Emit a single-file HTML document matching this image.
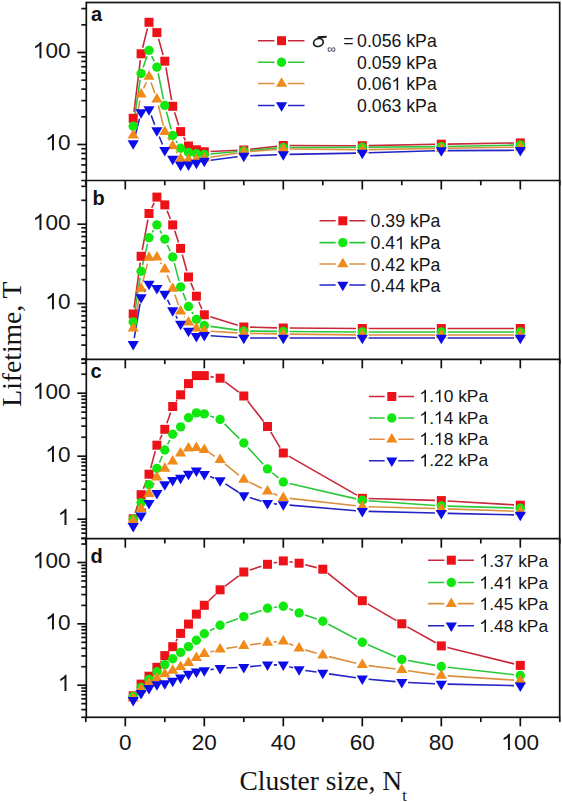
<!DOCTYPE html>
<html><head><meta charset="utf-8"><style>
html,body{margin:0;padding:0;background:#fff;}
body{width:562px;height:802px;position:relative;overflow:hidden;font-family:"Liberation Sans",sans-serif;}
</style></head><body>
<svg width="562" height="802" viewBox="0 0 562 802" style="position:absolute;left:0;top:0">
<rect width="562" height="802" fill="#fff"/>
<clipPath id="cpa"><rect x="86.3" y="2.5" width="473.40000000000003" height="178.0"/></clipPath>
<g clip-path="url(#cpa)">
<path d="M133.97 112.05L140.33 60.05M142.63 47.69L147.47 28.41M152.83 27.30L153.07 27.60M158.58 38.67L163.12 55.13M165.89 67.41L171.61 100.09M174.58 112.31L178.72 125.59M183.63 137.12L185.47 140.48M210.59 151.43L237.51 150.27M250.06 149.29L277.04 146.21M289.60 145.52L356.00 145.68M368.60 145.58L435.00 144.32M447.60 144.10L514.00 143.00" fill="none" stroke="#c8283a" stroke-width="1.6"/>
<path d="M134.13 120.07L140.17 79.73M143.14 67.54L146.96 56.36M151.69 56.09L154.21 61.41M158.17 73.27L163.53 99.33M166.40 111.59L171.10 129.41M176.03 140.85L177.27 142.85M210.58 153.94L237.52 151.56M250.08 150.44L277.02 148.06M289.60 147.48L356.00 147.32M368.60 147.24L435.00 146.66M447.60 146.47L514.00 145.13" fill="none" stroke="#2cc83c" stroke-width="1.6"/>
<path d="M134.39 129.11L139.91 100.29M143.68 88.35L146.42 82.25M151.06 82.45L154.84 93.35M158.39 105.42L163.31 125.68M167.86 137.31L169.64 140.49M176.01 151.36L177.29 153.44M210.52 157.31L237.58 152.99M250.08 151.52L277.02 149.48M289.60 149.06L356.00 149.64M368.60 149.60L435.00 148.50M447.60 148.30L514.00 147.20" fill="none" stroke="#dc9040" stroke-width="1.6"/>
<path d="M134.76 137.40L139.54 118.60M151.21 115.40L154.69 124.70M159.24 136.45L162.46 144.45M210.55 160.21L237.55 156.79M250.10 155.76L277.00 154.74M289.60 154.38L356.00 153.12M368.60 152.81L435.00 150.79M447.60 150.58L514.00 150.32" fill="none" stroke="#2424c4" stroke-width="1.6"/>
<rect x="128.70" y="113.80" width="9.00" height="9.00" fill="#ec1218"/>
<rect x="136.60" y="49.30" width="9.00" height="9.00" fill="#ec1218"/>
<rect x="144.50" y="17.80" width="9.00" height="9.00" fill="#ec1218"/>
<rect x="152.40" y="28.10" width="9.00" height="9.00" fill="#ec1218"/>
<rect x="160.30" y="56.70" width="9.00" height="9.00" fill="#ec1218"/>
<rect x="168.20" y="101.80" width="9.00" height="9.00" fill="#ec1218"/>
<rect x="176.10" y="127.10" width="9.00" height="9.00" fill="#ec1218"/>
<rect x="184.00" y="141.50" width="9.00" height="9.00" fill="#ec1218"/>
<rect x="191.90" y="145.30" width="9.00" height="9.00" fill="#ec1218"/>
<rect x="199.80" y="147.20" width="9.00" height="9.00" fill="#ec1218"/>
<rect x="239.30" y="145.50" width="9.00" height="9.00" fill="#ec1218"/>
<rect x="278.80" y="141.00" width="9.00" height="9.00" fill="#ec1218"/>
<rect x="357.80" y="141.20" width="9.00" height="9.00" fill="#ec1218"/>
<rect x="436.80" y="139.70" width="9.00" height="9.00" fill="#ec1218"/>
<rect x="515.80" y="138.40" width="9.00" height="9.00" fill="#ec1218"/>
<circle cx="133.20" cy="126.30" r="4.7" fill="#10e810"/>
<circle cx="141.10" cy="73.50" r="4.7" fill="#10e810"/>
<circle cx="149.00" cy="50.40" r="4.7" fill="#10e810"/>
<circle cx="156.90" cy="67.10" r="4.7" fill="#10e810"/>
<circle cx="164.80" cy="105.50" r="4.7" fill="#10e810"/>
<circle cx="172.70" cy="135.50" r="4.7" fill="#10e810"/>
<circle cx="180.60" cy="148.20" r="4.7" fill="#10e810"/>
<circle cx="188.50" cy="152.40" r="4.7" fill="#10e810"/>
<circle cx="196.40" cy="153.80" r="4.7" fill="#10e810"/>
<circle cx="204.30" cy="154.50" r="4.7" fill="#10e810"/>
<circle cx="243.80" cy="151.00" r="4.7" fill="#10e810"/>
<circle cx="283.30" cy="147.50" r="4.7" fill="#10e810"/>
<circle cx="362.30" cy="147.30" r="4.7" fill="#10e810"/>
<circle cx="441.30" cy="146.60" r="4.7" fill="#10e810"/>
<circle cx="520.30" cy="145.00" r="4.7" fill="#10e810"/>
<path d="M133.20 129.10L138.80 138.60L127.60 138.60Z" fill="#f08a1a"/>
<path d="M141.10 87.90L146.70 97.40L135.50 97.40Z" fill="#f08a1a"/>
<path d="M149.00 70.30L154.60 79.80L143.40 79.80Z" fill="#f08a1a"/>
<path d="M156.90 93.10L162.50 102.60L151.30 102.60Z" fill="#f08a1a"/>
<path d="M164.80 125.60L170.40 135.10L159.20 135.10Z" fill="#f08a1a"/>
<path d="M172.70 139.80L178.30 149.30L167.10 149.30Z" fill="#f08a1a"/>
<path d="M180.60 152.60L186.20 162.10L175.00 162.10Z" fill="#f08a1a"/>
<path d="M188.50 153.60L194.10 163.10L182.90 163.10Z" fill="#f08a1a"/>
<path d="M196.40 153.10L202.00 162.60L190.80 162.60Z" fill="#f08a1a"/>
<path d="M204.30 152.10L209.90 161.60L198.70 161.60Z" fill="#f08a1a"/>
<path d="M243.80 145.80L249.40 155.30L238.20 155.30Z" fill="#f08a1a"/>
<path d="M283.30 142.80L288.90 152.30L277.70 152.30Z" fill="#f08a1a"/>
<path d="M362.30 143.50L367.90 153.00L356.70 153.00Z" fill="#f08a1a"/>
<path d="M441.30 142.20L446.90 151.70L435.70 151.70Z" fill="#f08a1a"/>
<path d="M520.30 140.90L525.90 150.40L514.70 150.40Z" fill="#f08a1a"/>
<path d="M127.60 140.20L138.80 140.20L133.20 149.70Z" fill="#0c0ce8"/>
<path d="M135.50 109.20L146.70 109.20L141.10 118.70Z" fill="#0c0ce8"/>
<path d="M143.40 106.20L154.60 106.20L149.00 115.70Z" fill="#0c0ce8"/>
<path d="M151.30 127.30L162.50 127.30L156.90 136.80Z" fill="#0c0ce8"/>
<path d="M159.20 147.00L170.40 147.00L164.80 156.50Z" fill="#0c0ce8"/>
<path d="M167.10 155.70L178.30 155.70L172.70 165.20Z" fill="#0c0ce8"/>
<path d="M175.00 161.70L186.20 161.70L180.60 171.20Z" fill="#0c0ce8"/>
<path d="M182.90 161.50L194.10 161.50L188.50 171.00Z" fill="#0c0ce8"/>
<path d="M190.80 159.70L202.00 159.70L196.40 169.20Z" fill="#0c0ce8"/>
<path d="M198.70 157.70L209.90 157.70L204.30 167.20Z" fill="#0c0ce8"/>
<path d="M238.20 152.70L249.40 152.70L243.80 162.20Z" fill="#0c0ce8"/>
<path d="M277.70 151.20L288.90 151.20L283.30 160.70Z" fill="#0c0ce8"/>
<path d="M356.70 149.70L367.90 149.70L362.30 159.20Z" fill="#0c0ce8"/>
<path d="M435.70 147.30L446.90 147.30L441.30 156.80Z" fill="#0c0ce8"/>
<path d="M514.70 147.00L525.90 147.00L520.30 156.50Z" fill="#0c0ce8"/>
</g>
<clipPath id="cpb"><rect x="86.3" y="180.5" width="473.40000000000003" height="178.8"/></clipPath>
<g clip-path="url(#cpb)">
<path d="M134.05 307.76L140.25 262.54M142.24 250.10L147.86 219.70M151.73 207.82L154.17 202.78M167.11 210.76L170.39 219.04M174.71 230.87L178.59 242.43M182.28 254.47L186.82 270.93M190.90 282.83L194.00 290.37M198.86 302.00L201.84 309.00M210.32 316.66L237.78 325.14M250.10 327.16L277.00 327.84M289.60 328.04L356.00 328.46M368.60 328.50L435.00 328.50M447.60 328.50L514.00 328.50" fill="none" stroke="#c8283a" stroke-width="1.6"/>
<path d="M134.17 315.78L140.13 277.52M142.54 265.17L147.56 243.83M152.31 232.34L153.59 230.26M159.96 230.41L161.74 233.59M167.34 244.86L170.16 251.24M174.30 263.09L179.00 280.91M182.97 292.84L186.13 300.66M191.79 311.87L193.11 314.03M210.54 326.37L237.56 330.13M250.10 331.08L277.00 331.42M289.60 331.54L356.00 331.96M368.60 332.00L435.00 332.00M447.60 332.00L514.00 332.00" fill="none" stroke="#2cc83c" stroke-width="1.6"/>
<path d="M134.43 322.02L139.87 294.68M142.66 282.40L147.44 263.60M160.34 262.48L161.36 264.02M167.20 275.13L170.30 282.67M174.76 294.45L178.54 305.35M184.27 316.42L184.83 317.18M210.59 331.20L237.51 332.90M250.10 333.41L277.00 333.89M289.60 334.08L356.00 334.92M368.60 335.00L435.00 335.00M447.60 335.00L514.00 335.00" fill="none" stroke="#dc9040" stroke-width="1.6"/>
<path d="M134.25 338.09L140.05 303.71M144.28 292.06L145.82 289.44M167.53 299.78L169.97 304.82M175.88 315.94L177.42 318.56M210.59 335.73L237.51 337.57M250.10 338.00L277.00 338.00M289.60 338.00L356.00 338.00M368.60 338.00L435.00 338.00M447.60 338.00L514.00 338.00" fill="none" stroke="#2424c4" stroke-width="1.6"/>
<rect x="128.70" y="309.50" width="9.00" height="9.00" fill="#ec1218"/>
<rect x="136.60" y="251.80" width="9.00" height="9.00" fill="#ec1218"/>
<rect x="144.50" y="209.00" width="9.00" height="9.00" fill="#ec1218"/>
<rect x="152.40" y="192.60" width="9.00" height="9.00" fill="#ec1218"/>
<rect x="160.30" y="200.40" width="9.00" height="9.00" fill="#ec1218"/>
<rect x="168.20" y="220.40" width="9.00" height="9.00" fill="#ec1218"/>
<rect x="176.10" y="243.90" width="9.00" height="9.00" fill="#ec1218"/>
<rect x="184.00" y="272.50" width="9.00" height="9.00" fill="#ec1218"/>
<rect x="191.90" y="291.70" width="9.00" height="9.00" fill="#ec1218"/>
<rect x="199.80" y="310.30" width="9.00" height="9.00" fill="#ec1218"/>
<rect x="239.30" y="322.50" width="9.00" height="9.00" fill="#ec1218"/>
<rect x="278.80" y="323.50" width="9.00" height="9.00" fill="#ec1218"/>
<rect x="357.80" y="324.00" width="9.00" height="9.00" fill="#ec1218"/>
<rect x="436.80" y="324.00" width="9.00" height="9.00" fill="#ec1218"/>
<rect x="515.80" y="324.00" width="9.00" height="9.00" fill="#ec1218"/>
<circle cx="133.20" cy="322.00" r="4.7" fill="#10e810"/>
<circle cx="141.10" cy="271.30" r="4.7" fill="#10e810"/>
<circle cx="149.00" cy="237.70" r="4.7" fill="#10e810"/>
<circle cx="156.90" cy="224.90" r="4.7" fill="#10e810"/>
<circle cx="164.80" cy="239.10" r="4.7" fill="#10e810"/>
<circle cx="172.70" cy="257.00" r="4.7" fill="#10e810"/>
<circle cx="180.60" cy="287.00" r="4.7" fill="#10e810"/>
<circle cx="188.50" cy="306.50" r="4.7" fill="#10e810"/>
<circle cx="196.40" cy="319.40" r="4.7" fill="#10e810"/>
<circle cx="204.30" cy="325.50" r="4.7" fill="#10e810"/>
<circle cx="243.80" cy="331.00" r="4.7" fill="#10e810"/>
<circle cx="283.30" cy="331.50" r="4.7" fill="#10e810"/>
<circle cx="362.30" cy="332.00" r="4.7" fill="#10e810"/>
<circle cx="441.30" cy="332.00" r="4.7" fill="#10e810"/>
<circle cx="520.30" cy="332.00" r="4.7" fill="#10e810"/>
<path d="M133.20 322.00L138.80 331.50L127.60 331.50Z" fill="#f08a1a"/>
<path d="M141.10 282.30L146.70 291.80L135.50 291.80Z" fill="#f08a1a"/>
<path d="M149.00 251.30L154.60 260.80L143.40 260.80Z" fill="#f08a1a"/>
<path d="M156.90 251.00L162.50 260.50L151.30 260.50Z" fill="#f08a1a"/>
<path d="M164.80 263.10L170.40 272.60L159.20 272.60Z" fill="#f08a1a"/>
<path d="M172.70 282.30L178.30 291.80L167.10 291.80Z" fill="#f08a1a"/>
<path d="M180.60 305.10L186.20 314.60L175.00 314.60Z" fill="#f08a1a"/>
<path d="M188.50 316.10L194.10 325.60L182.90 325.60Z" fill="#f08a1a"/>
<path d="M196.40 322.00L202.00 331.50L190.80 331.50Z" fill="#f08a1a"/>
<path d="M204.30 324.60L209.90 334.10L198.70 334.10Z" fill="#f08a1a"/>
<path d="M243.80 327.10L249.40 336.60L238.20 336.60Z" fill="#f08a1a"/>
<path d="M283.30 327.80L288.90 337.30L277.70 337.30Z" fill="#f08a1a"/>
<path d="M362.30 328.80L367.90 338.30L356.70 338.30Z" fill="#f08a1a"/>
<path d="M441.30 328.80L446.90 338.30L435.70 338.30Z" fill="#f08a1a"/>
<path d="M520.30 328.80L525.90 338.30L514.70 338.30Z" fill="#f08a1a"/>
<path d="M127.60 341.00L138.80 341.00L133.20 350.50Z" fill="#0c0ce8"/>
<path d="M135.50 294.20L146.70 294.20L141.10 303.70Z" fill="#0c0ce8"/>
<path d="M143.40 280.70L154.60 280.70L149.00 290.20Z" fill="#0c0ce8"/>
<path d="M151.30 285.10L162.50 285.10L156.90 294.60Z" fill="#0c0ce8"/>
<path d="M159.20 290.80L170.40 290.80L164.80 300.30Z" fill="#0c0ce8"/>
<path d="M167.10 307.20L178.30 307.20L172.70 316.70Z" fill="#0c0ce8"/>
<path d="M175.00 320.70L186.20 320.70L180.60 330.20Z" fill="#0c0ce8"/>
<path d="M182.90 327.70L194.10 327.70L188.50 337.20Z" fill="#0c0ce8"/>
<path d="M190.80 333.00L202.00 333.00L196.40 342.50Z" fill="#0c0ce8"/>
<path d="M198.70 332.00L209.90 332.00L204.30 341.50Z" fill="#0c0ce8"/>
<path d="M238.20 334.70L249.40 334.70L243.80 344.20Z" fill="#0c0ce8"/>
<path d="M277.70 334.70L288.90 334.70L283.30 344.20Z" fill="#0c0ce8"/>
<path d="M356.70 334.70L367.90 334.70L362.30 344.20Z" fill="#0c0ce8"/>
<path d="M435.70 334.70L446.90 334.70L441.30 344.20Z" fill="#0c0ce8"/>
<path d="M514.70 334.70L525.90 334.70L520.30 344.20Z" fill="#0c0ce8"/>
</g>
<clipPath id="cpc"><rect x="86.3" y="359.3" width="473.40000000000003" height="179.40000000000003"/></clipPath>
<g clip-path="url(#cpc)">
<path d="M135.16 512.81L139.14 500.69M143.37 488.82L146.73 480.08M150.66 468.12L155.24 451.28M159.70 439.56L162.00 434.94M166.86 423.35L170.64 412.45M176.23 401.28L177.07 400.02M184.23 389.65L184.87 388.75M210.52 376.62L213.88 377.18M225.14 381.98L238.76 392.22M247.67 400.97L263.63 421.53M270.73 431.91L280.07 447.59M288.77 456.13L356.83 495.17M368.60 498.48L435.00 500.42M447.59 500.97L514.01 504.83" fill="none" stroke="#c8283a" stroke-width="1.6"/>
<path d="M135.92 513.42L138.38 508.28M143.66 496.84L146.44 490.56M151.73 479.12L154.17 474.08M159.39 462.61L162.31 455.79M167.63 444.37L169.87 439.93M210.24 416.00L214.16 417.40M224.57 423.94L239.33 438.56M248.05 447.65L263.25 464.25M272.35 472.92L278.45 477.98M289.44 483.42L356.16 498.88M368.58 500.75L435.02 505.45M447.60 506.08L514.00 508.02" fill="none" stroke="#2cc83c" stroke-width="1.6"/>
<path d="M136.66 515.54L137.64 514.06M144.04 503.23L146.06 499.37M151.71 488.11L154.19 482.89M209.59 453.02L214.81 456.38M224.94 463.83L238.96 475.47M249.46 482.27L261.84 488.33M273.31 493.53L277.49 495.27M289.56 498.40L356.04 505.80M368.60 506.68L435.00 508.52M447.60 508.92L514.00 511.18" fill="none" stroke="#dc9040" stroke-width="1.6"/>
<path d="M137.01 521.28L137.29 520.92M144.45 510.56L145.65 508.64M152.91 498.36L152.99 498.24M210.16 476.60L214.24 478.20M225.41 483.89L238.49 492.21M249.79 497.55L261.51 501.35M273.78 503.82L277.02 504.08M289.58 505.12L356.02 510.68M368.60 511.36L435.00 513.04M447.60 513.34L514.00 514.86" fill="none" stroke="#2424c4" stroke-width="1.6"/>
<rect x="128.70" y="514.30" width="9.00" height="9.00" fill="#ec1218"/>
<rect x="136.60" y="490.20" width="9.00" height="9.00" fill="#ec1218"/>
<rect x="144.50" y="469.70" width="9.00" height="9.00" fill="#ec1218"/>
<rect x="152.40" y="440.70" width="9.00" height="9.00" fill="#ec1218"/>
<rect x="160.30" y="424.80" width="9.00" height="9.00" fill="#ec1218"/>
<rect x="168.20" y="402.00" width="9.00" height="9.00" fill="#ec1218"/>
<rect x="176.10" y="390.30" width="9.00" height="9.00" fill="#ec1218"/>
<rect x="184.00" y="379.10" width="9.00" height="9.00" fill="#ec1218"/>
<rect x="191.90" y="371.10" width="9.00" height="9.00" fill="#ec1218"/>
<rect x="199.80" y="371.10" width="9.00" height="9.00" fill="#ec1218"/>
<rect x="215.60" y="373.70" width="9.00" height="9.00" fill="#ec1218"/>
<rect x="239.30" y="391.50" width="9.00" height="9.00" fill="#ec1218"/>
<rect x="263.00" y="422.00" width="9.00" height="9.00" fill="#ec1218"/>
<rect x="278.80" y="448.50" width="9.00" height="9.00" fill="#ec1218"/>
<rect x="357.80" y="493.80" width="9.00" height="9.00" fill="#ec1218"/>
<rect x="436.80" y="496.10" width="9.00" height="9.00" fill="#ec1218"/>
<rect x="515.80" y="500.70" width="9.00" height="9.00" fill="#ec1218"/>
<circle cx="133.20" cy="519.10" r="4.7" fill="#10e810"/>
<circle cx="141.10" cy="502.60" r="4.7" fill="#10e810"/>
<circle cx="149.00" cy="484.80" r="4.7" fill="#10e810"/>
<circle cx="156.90" cy="468.40" r="4.7" fill="#10e810"/>
<circle cx="164.80" cy="450.00" r="4.7" fill="#10e810"/>
<circle cx="172.70" cy="434.30" r="4.7" fill="#10e810"/>
<circle cx="180.60" cy="426.90" r="4.7" fill="#10e810"/>
<circle cx="188.50" cy="417.70" r="4.7" fill="#10e810"/>
<circle cx="196.40" cy="412.90" r="4.7" fill="#10e810"/>
<circle cx="204.30" cy="413.90" r="4.7" fill="#10e810"/>
<circle cx="220.10" cy="419.50" r="4.7" fill="#10e810"/>
<circle cx="243.80" cy="443.00" r="4.7" fill="#10e810"/>
<circle cx="267.50" cy="468.90" r="4.7" fill="#10e810"/>
<circle cx="283.30" cy="482.00" r="4.7" fill="#10e810"/>
<circle cx="362.30" cy="500.30" r="4.7" fill="#10e810"/>
<circle cx="441.30" cy="505.90" r="4.7" fill="#10e810"/>
<circle cx="520.30" cy="508.20" r="4.7" fill="#10e810"/>
<path d="M133.20 514.60L138.80 524.10L127.60 524.10Z" fill="#f08a1a"/>
<path d="M141.10 502.60L146.70 512.10L135.50 512.10Z" fill="#f08a1a"/>
<path d="M149.00 487.60L154.60 497.10L143.40 497.10Z" fill="#f08a1a"/>
<path d="M156.90 471.00L162.50 480.50L151.30 480.50Z" fill="#f08a1a"/>
<path d="M164.80 462.20L170.40 471.70L159.20 471.70Z" fill="#f08a1a"/>
<path d="M172.70 455.00L178.30 464.50L167.10 464.50Z" fill="#f08a1a"/>
<path d="M180.60 447.00L186.20 456.50L175.00 456.50Z" fill="#f08a1a"/>
<path d="M188.50 442.00L194.10 451.50L182.90 451.50Z" fill="#f08a1a"/>
<path d="M196.40 441.40L202.00 450.90L190.80 450.90Z" fill="#f08a1a"/>
<path d="M204.30 443.40L209.90 452.90L198.70 452.90Z" fill="#f08a1a"/>
<path d="M220.10 453.60L225.70 463.10L214.50 463.10Z" fill="#f08a1a"/>
<path d="M243.80 473.30L249.40 482.80L238.20 482.80Z" fill="#f08a1a"/>
<path d="M267.50 484.90L273.10 494.40L261.90 494.40Z" fill="#f08a1a"/>
<path d="M283.30 491.50L288.90 501.00L277.70 501.00Z" fill="#f08a1a"/>
<path d="M362.30 500.30L367.90 509.80L356.70 509.80Z" fill="#f08a1a"/>
<path d="M441.30 502.50L446.90 512.00L435.70 512.00Z" fill="#f08a1a"/>
<path d="M520.30 505.20L525.90 514.70L514.70 514.70Z" fill="#f08a1a"/>
<path d="M127.60 523.00L138.80 523.00L133.20 532.50Z" fill="#0c0ce8"/>
<path d="M135.50 512.60L146.70 512.60L141.10 522.10Z" fill="#0c0ce8"/>
<path d="M143.40 500.00L154.60 500.00L149.00 509.50Z" fill="#0c0ce8"/>
<path d="M151.30 490.00L162.50 490.00L156.90 499.50Z" fill="#0c0ce8"/>
<path d="M159.20 481.20L170.40 481.20L164.80 490.70Z" fill="#0c0ce8"/>
<path d="M167.10 477.10L178.30 477.10L172.70 486.60Z" fill="#0c0ce8"/>
<path d="M175.00 474.70L186.20 474.70L180.60 484.20Z" fill="#0c0ce8"/>
<path d="M182.90 470.70L194.10 470.70L188.50 480.20Z" fill="#0c0ce8"/>
<path d="M190.80 467.50L202.00 467.50L196.40 477.00Z" fill="#0c0ce8"/>
<path d="M198.70 471.00L209.90 471.00L204.30 480.50Z" fill="#0c0ce8"/>
<path d="M214.50 477.20L225.70 477.20L220.10 486.70Z" fill="#0c0ce8"/>
<path d="M238.20 492.30L249.40 492.30L243.80 501.80Z" fill="#0c0ce8"/>
<path d="M261.90 500.00L273.10 500.00L267.50 509.50Z" fill="#0c0ce8"/>
<path d="M277.70 501.30L288.90 501.30L283.30 510.80Z" fill="#0c0ce8"/>
<path d="M356.70 507.90L367.90 507.90L362.30 517.40Z" fill="#0c0ce8"/>
<path d="M435.70 509.90L446.90 509.90L441.30 519.40Z" fill="#0c0ce8"/>
<path d="M514.70 511.70L525.90 511.70L520.30 521.20Z" fill="#0c0ce8"/>
</g>
<clipPath id="cpd"><rect x="86.3" y="538.7" width="473.40000000000003" height="178.5999999999999"/></clipPath>
<g clip-path="url(#cpd)">
<path d="M136.73 690.58L137.57 689.32M160.43 662.08L161.27 660.82M175.92 641.28L177.38 638.82M192.41 619.16L192.49 619.04M208.80 600.89L215.60 594.21M225.14 586.02L238.76 575.78M249.79 570.05L261.51 566.25M273.66 562.97L277.14 562.23M289.53 561.81L292.87 562.29M305.21 564.75L316.69 567.65M327.73 573.13L357.37 596.77M367.74 603.88L396.36 620.62M407.30 626.88L435.80 642.82M447.42 647.41L514.18 663.89" fill="none" stroke="#c8283a" stroke-width="1.6"/>
<path d="M209.85 630.72L214.55 628.18M226.02 623.05L237.88 618.75M249.75 614.52L261.55 610.38M273.75 607.47L277.05 607.03M289.10 608.66L293.30 610.44M305.05 614.98L316.85 619.12M328.36 624.17L356.74 639.33M368.08 644.80L396.02 656.90M408.00 660.51L435.10 665.39M447.56 667.21L514.04 674.69" fill="none" stroke="#2cc83c" stroke-width="1.6"/>
<path d="M210.38 651.95L214.02 650.95M226.33 648.38L237.57 646.72M250.04 644.91L261.26 643.29M273.78 641.92L277.02 641.68M289.07 643.72L293.33 645.58M305.14 649.88L316.76 653.32M328.92 656.60L356.18 663.30M368.55 665.59L395.55 669.01M408.04 670.70L435.06 674.60M447.59 675.90L514.01 680.10" fill="none" stroke="#dc9040" stroke-width="1.6"/>
<path d="M210.54 669.63L213.86 669.17M226.39 668.01L237.51 667.49M250.07 666.59L261.23 665.51M273.80 664.90L277.00 664.90M289.35 666.66L293.05 667.74M305.33 670.42L316.57 672.08M329.04 673.90L356.06 677.80M368.58 679.26L395.52 681.64M408.09 682.49L435.01 683.71M447.60 684.14L514.00 685.66" fill="none" stroke="#2424c4" stroke-width="1.6"/>
<rect x="128.70" y="691.30" width="9.00" height="9.00" fill="#ec1218"/>
<rect x="136.60" y="679.60" width="9.00" height="9.00" fill="#ec1218"/>
<rect x="144.50" y="671.70" width="9.00" height="9.00" fill="#ec1218"/>
<rect x="152.40" y="662.80" width="9.00" height="9.00" fill="#ec1218"/>
<rect x="160.30" y="651.10" width="9.00" height="9.00" fill="#ec1218"/>
<rect x="168.20" y="642.20" width="9.00" height="9.00" fill="#ec1218"/>
<rect x="176.10" y="628.90" width="9.00" height="9.00" fill="#ec1218"/>
<rect x="184.00" y="619.60" width="9.00" height="9.00" fill="#ec1218"/>
<rect x="191.90" y="609.60" width="9.00" height="9.00" fill="#ec1218"/>
<rect x="199.80" y="600.80" width="9.00" height="9.00" fill="#ec1218"/>
<rect x="215.60" y="585.30" width="9.00" height="9.00" fill="#ec1218"/>
<rect x="239.30" y="567.50" width="9.00" height="9.00" fill="#ec1218"/>
<rect x="263.00" y="559.80" width="9.00" height="9.00" fill="#ec1218"/>
<rect x="278.80" y="556.40" width="9.00" height="9.00" fill="#ec1218"/>
<rect x="294.60" y="558.70" width="9.00" height="9.00" fill="#ec1218"/>
<rect x="318.30" y="564.70" width="9.00" height="9.00" fill="#ec1218"/>
<rect x="357.80" y="596.20" width="9.00" height="9.00" fill="#ec1218"/>
<rect x="397.30" y="619.30" width="9.00" height="9.00" fill="#ec1218"/>
<rect x="436.80" y="641.40" width="9.00" height="9.00" fill="#ec1218"/>
<rect x="515.80" y="660.90" width="9.00" height="9.00" fill="#ec1218"/>
<circle cx="133.20" cy="696.50" r="4.7" fill="#10e810"/>
<circle cx="141.10" cy="687.50" r="4.7" fill="#10e810"/>
<circle cx="149.00" cy="679.50" r="4.7" fill="#10e810"/>
<circle cx="156.90" cy="671.70" r="4.7" fill="#10e810"/>
<circle cx="164.80" cy="664.60" r="4.7" fill="#10e810"/>
<circle cx="172.70" cy="658.80" r="4.7" fill="#10e810"/>
<circle cx="180.60" cy="652.40" r="4.7" fill="#10e810"/>
<circle cx="188.50" cy="646.60" r="4.7" fill="#10e810"/>
<circle cx="196.40" cy="640.20" r="4.7" fill="#10e810"/>
<circle cx="204.30" cy="633.70" r="4.7" fill="#10e810"/>
<circle cx="220.10" cy="625.20" r="4.7" fill="#10e810"/>
<circle cx="243.80" cy="616.60" r="4.7" fill="#10e810"/>
<circle cx="267.50" cy="608.30" r="4.7" fill="#10e810"/>
<circle cx="283.30" cy="606.20" r="4.7" fill="#10e810"/>
<circle cx="299.10" cy="612.90" r="4.7" fill="#10e810"/>
<circle cx="322.80" cy="621.20" r="4.7" fill="#10e810"/>
<circle cx="362.30" cy="642.30" r="4.7" fill="#10e810"/>
<circle cx="401.80" cy="659.40" r="4.7" fill="#10e810"/>
<circle cx="441.30" cy="666.50" r="4.7" fill="#10e810"/>
<circle cx="520.30" cy="675.40" r="4.7" fill="#10e810"/>
<path d="M133.20 692.10L138.80 701.60L127.60 701.60Z" fill="#f08a1a"/>
<path d="M141.10 683.10L146.70 692.60L135.50 692.60Z" fill="#f08a1a"/>
<path d="M149.00 677.10L154.60 686.60L143.40 686.60Z" fill="#f08a1a"/>
<path d="M156.90 672.10L162.50 681.60L151.30 681.60Z" fill="#f08a1a"/>
<path d="M164.80 667.80L170.40 677.30L159.20 677.30Z" fill="#f08a1a"/>
<path d="M172.70 664.20L178.30 673.70L167.10 673.70Z" fill="#f08a1a"/>
<path d="M180.60 660.40L186.20 669.90L175.00 669.90Z" fill="#f08a1a"/>
<path d="M188.50 656.60L194.10 666.10L182.90 666.10Z" fill="#f08a1a"/>
<path d="M196.40 651.40L202.00 660.90L190.80 660.90Z" fill="#f08a1a"/>
<path d="M204.30 647.40L209.90 656.90L198.70 656.90Z" fill="#f08a1a"/>
<path d="M220.10 643.10L225.70 652.60L214.50 652.60Z" fill="#f08a1a"/>
<path d="M243.80 639.60L249.40 649.10L238.20 649.10Z" fill="#f08a1a"/>
<path d="M267.50 636.20L273.10 645.70L261.90 645.70Z" fill="#f08a1a"/>
<path d="M283.30 635.00L288.90 644.50L277.70 644.50Z" fill="#f08a1a"/>
<path d="M299.10 641.90L304.70 651.40L293.50 651.40Z" fill="#f08a1a"/>
<path d="M322.80 648.90L328.40 658.40L317.20 658.40Z" fill="#f08a1a"/>
<path d="M362.30 658.60L367.90 668.10L356.70 668.10Z" fill="#f08a1a"/>
<path d="M401.80 663.60L407.40 673.10L396.20 673.10Z" fill="#f08a1a"/>
<path d="M441.30 669.30L446.90 678.80L435.70 678.80Z" fill="#f08a1a"/>
<path d="M520.30 674.30L525.90 683.80L514.70 683.80Z" fill="#f08a1a"/>
<path d="M127.60 697.00L138.80 697.00L133.20 706.50Z" fill="#0c0ce8"/>
<path d="M135.50 689.90L146.70 689.90L141.10 699.40Z" fill="#0c0ce8"/>
<path d="M143.40 684.90L154.60 684.90L149.00 694.40Z" fill="#0c0ce8"/>
<path d="M151.30 681.30L162.50 681.30L156.90 690.80Z" fill="#0c0ce8"/>
<path d="M159.20 680.30L170.40 680.30L164.80 689.80Z" fill="#0c0ce8"/>
<path d="M167.10 677.70L178.30 677.70L172.70 687.20Z" fill="#0c0ce8"/>
<path d="M175.00 674.40L186.20 674.40L180.60 683.90Z" fill="#0c0ce8"/>
<path d="M182.90 670.70L194.10 670.70L188.50 680.20Z" fill="#0c0ce8"/>
<path d="M190.80 668.40L202.00 668.40L196.40 677.90Z" fill="#0c0ce8"/>
<path d="M198.70 667.20L209.90 667.20L204.30 676.70Z" fill="#0c0ce8"/>
<path d="M214.50 665.00L225.70 665.00L220.10 674.50Z" fill="#0c0ce8"/>
<path d="M238.20 663.90L249.40 663.90L243.80 673.40Z" fill="#0c0ce8"/>
<path d="M261.90 661.60L273.10 661.60L267.50 671.10Z" fill="#0c0ce8"/>
<path d="M277.70 661.60L288.90 661.60L283.30 671.10Z" fill="#0c0ce8"/>
<path d="M293.50 666.20L304.70 666.20L299.10 675.70Z" fill="#0c0ce8"/>
<path d="M317.20 669.70L328.40 669.70L322.80 679.20Z" fill="#0c0ce8"/>
<path d="M356.70 675.40L367.90 675.40L362.30 684.90Z" fill="#0c0ce8"/>
<path d="M396.20 678.90L407.40 678.90L401.80 688.40Z" fill="#0c0ce8"/>
<path d="M435.70 680.70L446.90 680.70L441.30 690.20Z" fill="#0c0ce8"/>
<path d="M514.70 682.50L525.90 682.50L520.30 692.00Z" fill="#0c0ce8"/>
</g>
<g font-family="Liberation Sans, sans-serif" fill="#141414">
<path d="M258 40.7L274.45 40.7M288.05 40.7L304.5 40.7" stroke="#c8283a" stroke-width="1.6"/>
<rect x="277.05" y="36.20" width="9.00" height="9.00" fill="#ec1218"/>
<text x="357.10" y="47.30" font-family="Liberation Sans, sans-serif" font-size="17.7" fill="#141414" style="font-kerning:none" >0.056 kPa</text>
<path d="M258 62.2L274.45 62.2M288.05 62.2L304.5 62.2" stroke="#2cc83c" stroke-width="1.6"/>
<circle cx="281.55" cy="62.20" r="4.7" fill="#10e810"/>
<text x="357.10" y="68.80" font-family="Liberation Sans, sans-serif" font-size="17.7" fill="#141414" style="font-kerning:none" >0.059 kPa</text>
<path d="M258 83.5L274.45 83.5M288.05 83.5L304.5 83.5" stroke="#dc9040" stroke-width="1.6"/>
<path d="M281.55 77.30L287.15 86.80L275.95 86.80Z" fill="#f08a1a"/>
<text x="357.10" y="90.10" font-family="Liberation Sans, sans-serif" font-size="17.7" fill="#141414" style="font-kerning:none" >0.06  kPa</text>
<path transform="translate(391.55,90.10) scale(0.00864,-0.00864)" d="M763 0L583 0L583 1147C540 1106 483 1062 405 1016C327 970 255 935 190 912L190 1090C300 1140 395 1200 475 1270C555 1340 610 1405 650 1472L763 1472Z" fill="#141414"/>
<path d="M258 105.5L274.45 105.5M288.05 105.5L304.5 105.5" stroke="#2424c4" stroke-width="1.6"/>
<path d="M275.95 102.20L287.15 102.20L281.55 111.70Z" fill="#0c0ce8"/>
<text x="357.10" y="112.10" font-family="Liberation Sans, sans-serif" font-size="17.7" fill="#141414" style="font-kerning:none" >0.063 kPa</text>
<text x="343.20" y="47.30" font-family="Liberation Sans, sans-serif" font-size="17.7" fill="#141414" style="font-kerning:none" >=</text>
<path d="M319.5 220.8L335.70 220.8M349.30 220.8L365.5 220.8" stroke="#c8283a" stroke-width="1.6"/>
<rect x="338.30" y="216.30" width="9.00" height="9.00" fill="#ec1218"/>
<text x="370.60" y="227.40" font-family="Liberation Sans, sans-serif" font-size="17.7" fill="#141414" style="font-kerning:none" >0.39 kPa</text>
<path d="M319.5 242.6L335.70 242.6M349.30 242.6L365.5 242.6" stroke="#2cc83c" stroke-width="1.6"/>
<circle cx="342.80" cy="242.60" r="4.7" fill="#10e810"/>
<text x="370.60" y="249.20" font-family="Liberation Sans, sans-serif" font-size="17.7" fill="#141414" style="font-kerning:none" >0.4  kPa</text>
<path transform="translate(395.21,249.20) scale(0.00864,-0.00864)" d="M763 0L583 0L583 1147C540 1106 483 1062 405 1016C327 970 255 935 190 912L190 1090C300 1140 395 1200 475 1270C555 1340 610 1405 650 1472L763 1472Z" fill="#141414"/>
<path d="M319.5 264.0L335.70 264.0M349.30 264.0L365.5 264.0" stroke="#dc9040" stroke-width="1.6"/>
<path d="M342.80 257.80L348.40 267.30L337.20 267.30Z" fill="#f08a1a"/>
<text x="370.60" y="270.60" font-family="Liberation Sans, sans-serif" font-size="17.7" fill="#141414" style="font-kerning:none" >0.42 kPa</text>
<path d="M319.5 285.0L335.70 285.0M349.30 285.0L365.5 285.0" stroke="#2424c4" stroke-width="1.6"/>
<path d="M337.20 281.70L348.40 281.70L342.80 291.20Z" fill="#0c0ce8"/>
<text x="370.60" y="291.60" font-family="Liberation Sans, sans-serif" font-size="17.7" fill="#141414" style="font-kerning:none" >0.44 kPa</text>
<path d="M369 396.5L384.70 396.5M398.30 396.5L414 396.5" stroke="#c8283a" stroke-width="1.6"/>
<rect x="387.30" y="392.00" width="9.00" height="9.00" fill="#ec1218"/>
<text x="419.50" y="402.20" font-family="Liberation Sans, sans-serif" font-size="17.4" fill="#141414" style="font-kerning:none" > . 0 kPa</text>
<path transform="translate(419.50,402.20) scale(0.00850,-0.00850)" d="M763 0L583 0L583 1147C540 1106 483 1062 405 1016C327 970 255 935 190 912L190 1090C300 1140 395 1200 475 1270C555 1340 610 1405 650 1472L763 1472Z" fill="#141414"/>
<path transform="translate(434.01,402.20) scale(0.00850,-0.00850)" d="M763 0L583 0L583 1147C540 1106 483 1062 405 1016C327 970 255 935 190 912L190 1090C300 1140 395 1200 475 1270C555 1340 610 1405 650 1472L763 1472Z" fill="#141414"/>
<path d="M369 418.0L384.70 418.0M398.30 418.0L414 418.0" stroke="#2cc83c" stroke-width="1.6"/>
<circle cx="391.80" cy="418.00" r="4.7" fill="#10e810"/>
<text x="419.50" y="423.70" font-family="Liberation Sans, sans-serif" font-size="17.4" fill="#141414" style="font-kerning:none" > . 4 kPa</text>
<path transform="translate(419.50,423.70) scale(0.00850,-0.00850)" d="M763 0L583 0L583 1147C540 1106 483 1062 405 1016C327 970 255 935 190 912L190 1090C300 1140 395 1200 475 1270C555 1340 610 1405 650 1472L763 1472Z" fill="#141414"/>
<path transform="translate(434.01,423.70) scale(0.00850,-0.00850)" d="M763 0L583 0L583 1147C540 1106 483 1062 405 1016C327 970 255 935 190 912L190 1090C300 1140 395 1200 475 1270C555 1340 610 1405 650 1472L763 1472Z" fill="#141414"/>
<path d="M369 439.3L384.70 439.3M398.30 439.3L414 439.3" stroke="#dc9040" stroke-width="1.6"/>
<path d="M391.80 433.10L397.40 442.60L386.20 442.60Z" fill="#f08a1a"/>
<text x="419.50" y="445.00" font-family="Liberation Sans, sans-serif" font-size="17.4" fill="#141414" style="font-kerning:none" > . 8 kPa</text>
<path transform="translate(419.50,445.00) scale(0.00850,-0.00850)" d="M763 0L583 0L583 1147C540 1106 483 1062 405 1016C327 970 255 935 190 912L190 1090C300 1140 395 1200 475 1270C555 1340 610 1405 650 1472L763 1472Z" fill="#141414"/>
<path transform="translate(434.01,445.00) scale(0.00850,-0.00850)" d="M763 0L583 0L583 1147C540 1106 483 1062 405 1016C327 970 255 935 190 912L190 1090C300 1140 395 1200 475 1270C555 1340 610 1405 650 1472L763 1472Z" fill="#141414"/>
<path d="M369 460.7L384.70 460.7M398.30 460.7L414 460.7" stroke="#2424c4" stroke-width="1.6"/>
<path d="M386.20 457.40L397.40 457.40L391.80 466.90Z" fill="#0c0ce8"/>
<text x="419.50" y="466.40" font-family="Liberation Sans, sans-serif" font-size="17.4" fill="#141414" style="font-kerning:none" > .22 kPa</text>
<path transform="translate(419.50,466.40) scale(0.00850,-0.00850)" d="M763 0L583 0L583 1147C540 1106 483 1062 405 1016C327 970 255 935 190 912L190 1090C300 1140 395 1200 475 1270C555 1340 610 1405 650 1472L763 1472Z" fill="#141414"/>
<path d="M428 560.2L444.20 560.2M457.80 560.2L474 560.2" stroke="#c8283a" stroke-width="1.6"/>
<rect x="446.80" y="555.70" width="9.00" height="9.00" fill="#ec1218"/>
<text x="479.50" y="566.50" font-family="Liberation Sans, sans-serif" font-size="17.4" fill="#141414" style="font-kerning:none" > .37 kPa</text>
<path transform="translate(479.50,566.50) scale(0.00850,-0.00850)" d="M763 0L583 0L583 1147C540 1106 483 1062 405 1016C327 970 255 935 190 912L190 1090C300 1140 395 1200 475 1270C555 1340 610 1405 650 1472L763 1472Z" fill="#141414"/>
<path d="M428 582.5L444.20 582.5M457.80 582.5L474 582.5" stroke="#2cc83c" stroke-width="1.6"/>
<circle cx="451.30" cy="582.50" r="4.7" fill="#10e810"/>
<text x="479.50" y="588.80" font-family="Liberation Sans, sans-serif" font-size="17.4" fill="#141414" style="font-kerning:none" > .4  kPa</text>
<path transform="translate(479.50,588.80) scale(0.00850,-0.00850)" d="M763 0L583 0L583 1147C540 1106 483 1062 405 1016C327 970 255 935 190 912L190 1090C300 1140 395 1200 475 1270C555 1340 610 1405 650 1472L763 1472Z" fill="#141414"/>
<path transform="translate(503.69,588.80) scale(0.00850,-0.00850)" d="M763 0L583 0L583 1147C540 1106 483 1062 405 1016C327 970 255 935 190 912L190 1090C300 1140 395 1200 475 1270C555 1340 610 1405 650 1472L763 1472Z" fill="#141414"/>
<path d="M428 603.6L444.20 603.6M457.80 603.6L474 603.6" stroke="#dc9040" stroke-width="1.6"/>
<path d="M451.30 597.40L456.90 606.90L445.70 606.90Z" fill="#f08a1a"/>
<text x="479.50" y="609.90" font-family="Liberation Sans, sans-serif" font-size="17.4" fill="#141414" style="font-kerning:none" > .45 kPa</text>
<path transform="translate(479.50,609.90) scale(0.00850,-0.00850)" d="M763 0L583 0L583 1147C540 1106 483 1062 405 1016C327 970 255 935 190 912L190 1090C300 1140 395 1200 475 1270C555 1340 610 1405 650 1472L763 1472Z" fill="#141414"/>
<path d="M428 625.8L444.20 625.8M457.80 625.8L474 625.8" stroke="#2424c4" stroke-width="1.6"/>
<path d="M445.70 622.50L456.90 622.50L451.30 632.00Z" fill="#0c0ce8"/>
<text x="479.50" y="632.10" font-family="Liberation Sans, sans-serif" font-size="17.4" fill="#141414" style="font-kerning:none" > .48 kPa</text>
<path transform="translate(479.50,632.10) scale(0.00850,-0.00850)" d="M763 0L583 0L583 1147C540 1106 483 1062 405 1016C327 970 255 935 190 912L190 1090C300 1140 395 1200 475 1270C555 1340 610 1405 650 1472L763 1472Z" fill="#141414"/>
</g>
<g fill="none" stroke="#1a1a1a"><ellipse cx="318.4" cy="42.5" rx="4.9" ry="3.9" transform="rotate(-18 318.4 42.5)" stroke-width="1.7"/><path d="M317.5 37.4 L326.6 36.8" stroke-width="2.1"/></g>
<text x="327.2" y="52.6" font-family="Liberation Sans, sans-serif" font-size="12" fill="#333">∞</text>
<g stroke="#111" stroke-width="1.7" fill="none">
<rect x="86.3" y="2.5" width="473.40000000000003" height="714.8"/>
<line x1="81.3" y1="180.5" x2="559.7" y2="180.5"/>
<line x1="81.3" y1="359.3" x2="559.7" y2="359.3"/>
<line x1="81.3" y1="538.7" x2="559.7" y2="538.7"/>
<line x1="85.80" y1="180.5" x2="85.80" y2="185.3"/>
<line x1="125.30" y1="180.5" x2="125.30" y2="189.5"/>
<line x1="164.80" y1="180.5" x2="164.80" y2="185.3"/>
<line x1="204.30" y1="180.5" x2="204.30" y2="189.5"/>
<line x1="243.80" y1="180.5" x2="243.80" y2="185.3"/>
<line x1="283.30" y1="180.5" x2="283.30" y2="189.5"/>
<line x1="322.80" y1="180.5" x2="322.80" y2="185.3"/>
<line x1="362.30" y1="180.5" x2="362.30" y2="189.5"/>
<line x1="401.80" y1="180.5" x2="401.80" y2="185.3"/>
<line x1="441.30" y1="180.5" x2="441.30" y2="189.5"/>
<line x1="480.80" y1="180.5" x2="480.80" y2="185.3"/>
<line x1="520.30" y1="180.5" x2="520.30" y2="189.5"/>
<line x1="559.80" y1="180.5" x2="559.80" y2="185.3"/>
<line x1="85.80" y1="359.3" x2="85.80" y2="364.1"/>
<line x1="125.30" y1="359.3" x2="125.30" y2="368.3"/>
<line x1="164.80" y1="359.3" x2="164.80" y2="364.1"/>
<line x1="204.30" y1="359.3" x2="204.30" y2="368.3"/>
<line x1="243.80" y1="359.3" x2="243.80" y2="364.1"/>
<line x1="283.30" y1="359.3" x2="283.30" y2="368.3"/>
<line x1="322.80" y1="359.3" x2="322.80" y2="364.1"/>
<line x1="362.30" y1="359.3" x2="362.30" y2="368.3"/>
<line x1="401.80" y1="359.3" x2="401.80" y2="364.1"/>
<line x1="441.30" y1="359.3" x2="441.30" y2="368.3"/>
<line x1="480.80" y1="359.3" x2="480.80" y2="364.1"/>
<line x1="520.30" y1="359.3" x2="520.30" y2="368.3"/>
<line x1="559.80" y1="359.3" x2="559.80" y2="364.1"/>
<line x1="85.80" y1="538.7" x2="85.80" y2="543.5"/>
<line x1="125.30" y1="538.7" x2="125.30" y2="547.7"/>
<line x1="164.80" y1="538.7" x2="164.80" y2="543.5"/>
<line x1="204.30" y1="538.7" x2="204.30" y2="547.7"/>
<line x1="243.80" y1="538.7" x2="243.80" y2="543.5"/>
<line x1="283.30" y1="538.7" x2="283.30" y2="547.7"/>
<line x1="322.80" y1="538.7" x2="322.80" y2="543.5"/>
<line x1="362.30" y1="538.7" x2="362.30" y2="547.7"/>
<line x1="401.80" y1="538.7" x2="401.80" y2="543.5"/>
<line x1="441.30" y1="538.7" x2="441.30" y2="547.7"/>
<line x1="480.80" y1="538.7" x2="480.80" y2="543.5"/>
<line x1="520.30" y1="538.7" x2="520.30" y2="547.7"/>
<line x1="559.80" y1="538.7" x2="559.80" y2="543.5"/>
<line x1="85.80" y1="717.3" x2="85.80" y2="722.0999999999999"/>
<line x1="125.30" y1="717.3" x2="125.30" y2="726.3"/>
<line x1="164.80" y1="717.3" x2="164.80" y2="722.0999999999999"/>
<line x1="204.30" y1="717.3" x2="204.30" y2="726.3"/>
<line x1="243.80" y1="717.3" x2="243.80" y2="722.0999999999999"/>
<line x1="283.30" y1="717.3" x2="283.30" y2="726.3"/>
<line x1="322.80" y1="717.3" x2="322.80" y2="722.0999999999999"/>
<line x1="362.30" y1="717.3" x2="362.30" y2="726.3"/>
<line x1="401.80" y1="717.3" x2="401.80" y2="722.0999999999999"/>
<line x1="441.30" y1="717.3" x2="441.30" y2="726.3"/>
<line x1="480.80" y1="717.3" x2="480.80" y2="722.0999999999999"/>
<line x1="520.30" y1="717.3" x2="520.30" y2="726.3"/>
<line x1="559.80" y1="717.3" x2="559.80" y2="722.0999999999999"/>
<line x1="81.3" y1="172.19" x2="86.3" y2="172.19"/>
<line x1="81.3" y1="164.91" x2="86.3" y2="164.91"/>
<line x1="81.3" y1="158.75" x2="86.3" y2="158.75"/>
<line x1="81.3" y1="153.42" x2="86.3" y2="153.42"/>
<line x1="81.3" y1="148.71" x2="86.3" y2="148.71"/>
<line x1="77.3" y1="144.50" x2="86.3" y2="144.50"/>
<line x1="81.3" y1="116.81" x2="86.3" y2="116.81"/>
<line x1="81.3" y1="100.60" x2="86.3" y2="100.60"/>
<line x1="81.3" y1="89.11" x2="86.3" y2="89.11"/>
<line x1="81.3" y1="80.19" x2="86.3" y2="80.19"/>
<line x1="81.3" y1="72.91" x2="86.3" y2="72.91"/>
<line x1="81.3" y1="66.75" x2="86.3" y2="66.75"/>
<line x1="81.3" y1="61.42" x2="86.3" y2="61.42"/>
<line x1="81.3" y1="56.71" x2="86.3" y2="56.71"/>
<line x1="77.3" y1="52.50" x2="86.3" y2="52.50"/>
<line x1="81.3" y1="24.81" x2="86.3" y2="24.81"/>
<line x1="81.3" y1="8.60" x2="86.3" y2="8.60"/>
<line x1="81.3" y1="359.10" x2="86.3" y2="359.10"/>
<line x1="81.3" y1="345.12" x2="86.3" y2="345.12"/>
<line x1="81.3" y1="335.20" x2="86.3" y2="335.20"/>
<line x1="81.3" y1="327.50" x2="86.3" y2="327.50"/>
<line x1="81.3" y1="321.21" x2="86.3" y2="321.21"/>
<line x1="81.3" y1="315.90" x2="86.3" y2="315.90"/>
<line x1="81.3" y1="311.29" x2="86.3" y2="311.29"/>
<line x1="81.3" y1="307.23" x2="86.3" y2="307.23"/>
<line x1="77.3" y1="303.60" x2="86.3" y2="303.60"/>
<line x1="81.3" y1="279.70" x2="86.3" y2="279.70"/>
<line x1="81.3" y1="265.72" x2="86.3" y2="265.72"/>
<line x1="81.3" y1="255.80" x2="86.3" y2="255.80"/>
<line x1="81.3" y1="248.10" x2="86.3" y2="248.10"/>
<line x1="81.3" y1="241.81" x2="86.3" y2="241.81"/>
<line x1="81.3" y1="236.50" x2="86.3" y2="236.50"/>
<line x1="81.3" y1="231.89" x2="86.3" y2="231.89"/>
<line x1="81.3" y1="227.83" x2="86.3" y2="227.83"/>
<line x1="77.3" y1="224.20" x2="86.3" y2="224.20"/>
<line x1="81.3" y1="200.30" x2="86.3" y2="200.30"/>
<line x1="81.3" y1="186.32" x2="86.3" y2="186.32"/>
<line x1="81.3" y1="538.16" x2="86.3" y2="538.16"/>
<line x1="81.3" y1="533.18" x2="86.3" y2="533.18"/>
<line x1="81.3" y1="528.96" x2="86.3" y2="528.96"/>
<line x1="81.3" y1="525.31" x2="86.3" y2="525.31"/>
<line x1="81.3" y1="522.08" x2="86.3" y2="522.08"/>
<line x1="77.3" y1="519.20" x2="86.3" y2="519.20"/>
<line x1="81.3" y1="500.24" x2="86.3" y2="500.24"/>
<line x1="81.3" y1="489.14" x2="86.3" y2="489.14"/>
<line x1="81.3" y1="481.27" x2="86.3" y2="481.27"/>
<line x1="81.3" y1="475.16" x2="86.3" y2="475.16"/>
<line x1="81.3" y1="470.18" x2="86.3" y2="470.18"/>
<line x1="81.3" y1="465.96" x2="86.3" y2="465.96"/>
<line x1="81.3" y1="462.31" x2="86.3" y2="462.31"/>
<line x1="81.3" y1="459.08" x2="86.3" y2="459.08"/>
<line x1="77.3" y1="456.20" x2="86.3" y2="456.20"/>
<line x1="81.3" y1="437.24" x2="86.3" y2="437.24"/>
<line x1="81.3" y1="426.14" x2="86.3" y2="426.14"/>
<line x1="81.3" y1="418.27" x2="86.3" y2="418.27"/>
<line x1="81.3" y1="412.16" x2="86.3" y2="412.16"/>
<line x1="81.3" y1="407.18" x2="86.3" y2="407.18"/>
<line x1="81.3" y1="402.96" x2="86.3" y2="402.96"/>
<line x1="81.3" y1="399.31" x2="86.3" y2="399.31"/>
<line x1="81.3" y1="396.08" x2="86.3" y2="396.08"/>
<line x1="77.3" y1="393.20" x2="86.3" y2="393.20"/>
<line x1="81.3" y1="374.24" x2="86.3" y2="374.24"/>
<line x1="81.3" y1="363.14" x2="86.3" y2="363.14"/>
<line x1="81.3" y1="717.28" x2="86.3" y2="717.28"/>
<line x1="81.3" y1="709.61" x2="86.3" y2="709.61"/>
<line x1="81.3" y1="703.67" x2="86.3" y2="703.67"/>
<line x1="81.3" y1="698.81" x2="86.3" y2="698.81"/>
<line x1="81.3" y1="694.70" x2="86.3" y2="694.70"/>
<line x1="81.3" y1="691.15" x2="86.3" y2="691.15"/>
<line x1="81.3" y1="688.01" x2="86.3" y2="688.01"/>
<line x1="77.3" y1="685.20" x2="86.3" y2="685.20"/>
<line x1="81.3" y1="666.73" x2="86.3" y2="666.73"/>
<line x1="81.3" y1="655.93" x2="86.3" y2="655.93"/>
<line x1="81.3" y1="648.26" x2="86.3" y2="648.26"/>
<line x1="81.3" y1="642.32" x2="86.3" y2="642.32"/>
<line x1="81.3" y1="637.46" x2="86.3" y2="637.46"/>
<line x1="81.3" y1="633.35" x2="86.3" y2="633.35"/>
<line x1="81.3" y1="629.80" x2="86.3" y2="629.80"/>
<line x1="81.3" y1="626.66" x2="86.3" y2="626.66"/>
<line x1="77.3" y1="623.85" x2="86.3" y2="623.85"/>
<line x1="81.3" y1="605.38" x2="86.3" y2="605.38"/>
<line x1="81.3" y1="594.58" x2="86.3" y2="594.58"/>
<line x1="81.3" y1="586.91" x2="86.3" y2="586.91"/>
<line x1="81.3" y1="580.97" x2="86.3" y2="580.97"/>
<line x1="81.3" y1="576.11" x2="86.3" y2="576.11"/>
<line x1="81.3" y1="572.00" x2="86.3" y2="572.00"/>
<line x1="81.3" y1="568.45" x2="86.3" y2="568.45"/>
<line x1="81.3" y1="565.31" x2="86.3" y2="565.31"/>
<line x1="77.3" y1="562.50" x2="86.3" y2="562.50"/>
<line x1="81.3" y1="544.03" x2="86.3" y2="544.03"/>
</g>
<g font-family="Liberation Sans, sans-serif" font-size="22" fill="#141414">
<text x="33.06" y="58.20" font-family="Liberation Sans, sans-serif" font-size="22.5" fill="#141414" style="font-kerning:none" > 00</text>
<path transform="translate(33.06,58.20) scale(0.01099,-0.01099)" d="M763 0L583 0L583 1147C540 1106 483 1062 405 1016C327 970 255 935 190 912L190 1090C300 1140 395 1200 475 1270C555 1340 610 1405 650 1472L763 1472Z" fill="#141414"/>
<text x="45.57" y="150.20" font-family="Liberation Sans, sans-serif" font-size="22.5" fill="#141414" style="font-kerning:none" > 0</text>
<path transform="translate(45.57,150.20) scale(0.01099,-0.01099)" d="M763 0L583 0L583 1147C540 1106 483 1062 405 1016C327 970 255 935 190 912L190 1090C300 1140 395 1200 475 1270C555 1340 610 1405 650 1472L763 1472Z" fill="#141414"/>
<text x="33.06" y="229.90" font-family="Liberation Sans, sans-serif" font-size="22.5" fill="#141414" style="font-kerning:none" > 00</text>
<path transform="translate(33.06,229.90) scale(0.01099,-0.01099)" d="M763 0L583 0L583 1147C540 1106 483 1062 405 1016C327 970 255 935 190 912L190 1090C300 1140 395 1200 475 1270C555 1340 610 1405 650 1472L763 1472Z" fill="#141414"/>
<text x="45.57" y="309.30" font-family="Liberation Sans, sans-serif" font-size="22.5" fill="#141414" style="font-kerning:none" > 0</text>
<path transform="translate(45.57,309.30) scale(0.01099,-0.01099)" d="M763 0L583 0L583 1147C540 1106 483 1062 405 1016C327 970 255 935 190 912L190 1090C300 1140 395 1200 475 1270C555 1340 610 1405 650 1472L763 1472Z" fill="#141414"/>
<text x="33.06" y="398.90" font-family="Liberation Sans, sans-serif" font-size="22.5" fill="#141414" style="font-kerning:none" > 00</text>
<path transform="translate(33.06,398.90) scale(0.01099,-0.01099)" d="M763 0L583 0L583 1147C540 1106 483 1062 405 1016C327 970 255 935 190 912L190 1090C300 1140 395 1200 475 1270C555 1340 610 1405 650 1472L763 1472Z" fill="#141414"/>
<text x="45.57" y="461.90" font-family="Liberation Sans, sans-serif" font-size="22.5" fill="#141414" style="font-kerning:none" > 0</text>
<path transform="translate(45.57,461.90) scale(0.01099,-0.01099)" d="M763 0L583 0L583 1147C540 1106 483 1062 405 1016C327 970 255 935 190 912L190 1090C300 1140 395 1200 475 1270C555 1340 610 1405 650 1472L763 1472Z" fill="#141414"/>
<text x="58.09" y="524.90" font-family="Liberation Sans, sans-serif" font-size="22.5" fill="#141414" style="font-kerning:none" > </text>
<path transform="translate(58.09,524.90) scale(0.01099,-0.01099)" d="M763 0L583 0L583 1147C540 1106 483 1062 405 1016C327 970 255 935 190 912L190 1090C300 1140 395 1200 475 1270C555 1340 610 1405 650 1472L763 1472Z" fill="#141414"/>
<text x="33.06" y="568.20" font-family="Liberation Sans, sans-serif" font-size="22.5" fill="#141414" style="font-kerning:none" > 00</text>
<path transform="translate(33.06,568.20) scale(0.01099,-0.01099)" d="M763 0L583 0L583 1147C540 1106 483 1062 405 1016C327 970 255 935 190 912L190 1090C300 1140 395 1200 475 1270C555 1340 610 1405 650 1472L763 1472Z" fill="#141414"/>
<text x="45.57" y="629.55" font-family="Liberation Sans, sans-serif" font-size="22.5" fill="#141414" style="font-kerning:none" > 0</text>
<path transform="translate(45.57,629.55) scale(0.01099,-0.01099)" d="M763 0L583 0L583 1147C540 1106 483 1062 405 1016C327 970 255 935 190 912L190 1090C300 1140 395 1200 475 1270C555 1340 610 1405 650 1472L763 1472Z" fill="#141414"/>
<text x="58.09" y="690.90" font-family="Liberation Sans, sans-serif" font-size="22.5" fill="#141414" style="font-kerning:none" > </text>
<path transform="translate(58.09,690.90) scale(0.01099,-0.01099)" d="M763 0L583 0L583 1147C540 1106 483 1062 405 1016C327 970 255 935 190 912L190 1090C300 1140 395 1200 475 1270C555 1340 610 1405 650 1472L763 1472Z" fill="#141414"/>
<text x="119.04" y="750.00" font-family="Liberation Sans, sans-serif" font-size="22.5" fill="#141414" style="font-kerning:none" >0</text>
<text x="191.79" y="750.00" font-family="Liberation Sans, sans-serif" font-size="22.5" fill="#141414" style="font-kerning:none" >20</text>
<text x="270.79" y="750.00" font-family="Liberation Sans, sans-serif" font-size="22.5" fill="#141414" style="font-kerning:none" >40</text>
<text x="349.79" y="750.00" font-family="Liberation Sans, sans-serif" font-size="22.5" fill="#141414" style="font-kerning:none" >60</text>
<text x="428.79" y="750.00" font-family="Liberation Sans, sans-serif" font-size="22.5" fill="#141414" style="font-kerning:none" >80</text>
<text x="501.53" y="750.00" font-family="Liberation Sans, sans-serif" font-size="22.5" fill="#141414" style="font-kerning:none" > 00</text>
<path transform="translate(501.53,750.00) scale(0.01099,-0.01099)" d="M763 0L583 0L583 1147C540 1106 483 1062 405 1016C327 970 255 935 190 912L190 1090C300 1140 395 1200 475 1270C555 1340 610 1405 650 1472L763 1472Z" fill="#141414"/>
</g>
<g font-family="Liberation Sans, sans-serif" font-size="20" font-weight="bold" fill="#111">
<text x="91" y="20.5">a</text>
<text x="92.5" y="204.7">b</text>
<text x="90.5" y="378.3">c</text>
<text x="90.5" y="562.8">d</text>
</g>
<text x="239.5" y="790" font-family="Liberation Serif, serif" font-size="27.5" fill="#141414">Cluster size, N<tspan font-size="16" dy="11">t</tspan></text>
<text transform="translate(20.6,406.7) rotate(-90)" x="0" y="0" font-family="Liberation Serif, serif" font-size="27.6" fill="#141414">Lifetime, T</text>
</svg>
</body></html>
